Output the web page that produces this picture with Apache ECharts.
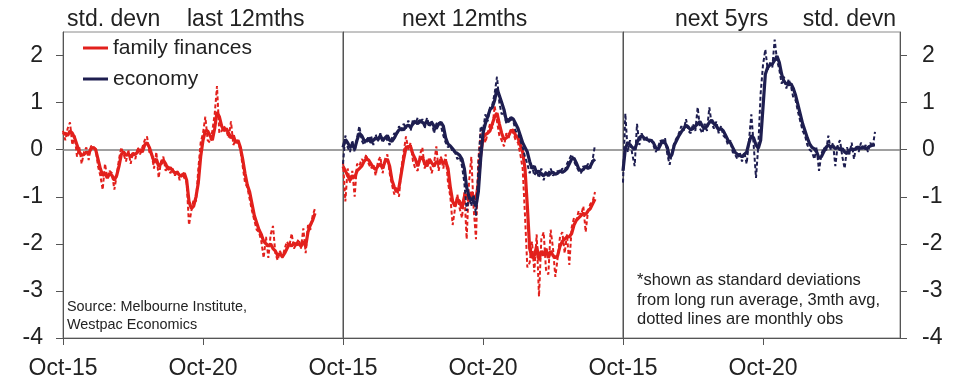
<!DOCTYPE html>
<html><head><meta charset="utf-8">
<script src="https://cdn.jsdelivr.net/npm/echarts@6/dist/echarts.min.js"></script>
<style>html,body{margin:0;padding:0;background:#fff}#c{width:957px;height:380px}</style>
</head><body><div id="c"></div>
<script>
// month offsets from Oct-15; monthly data Oct-15 .. Oct-24
const tickLabels = ['Oct-15', 'Oct-20'];
const tickMonths = [0, 60];
const yTicks = [-4, -3, -2, -1, 0, 1, 2];

// family finances vs last 12 months: 3mth avg and monthly
const ffLast3 = [0.32,0.35,0.30,0.40,0.35,0.25,0.10,-0.05,-0.12,-0.10,
-0.05,-0.08,0.02,0.05,0.00,-0.20,-0.40,-0.55,-0.50,-0.60,
-0.50,-0.55,-0.65,-0.55,-0.35,-0.10,-0.05,-0.12,-0.10,-0.15,
-0.08,-0.10,-0.05,0.00,-0.05,0.10,0.15,0.05,-0.10,-0.25,
-0.20,-0.35,-0.30,-0.22,-0.30,-0.42,-0.38,-0.45,-0.50,-0.48,
-0.55,-0.55,-0.50,-0.65,-1.10,-1.25,-1.20,-1.00,-0.70,-0.15,
0.20,0.40,0.40,0.30,0.20,0.45,0.80,0.70,0.50,0.40,
0.45,0.35,0.25,0.30,0.15,0.20,0.05,-0.20,-0.50,-0.75,
-0.90,-1.15,-1.40,-1.55,-1.70,-1.80,-1.95,-2.00,-2.05,-2.00,
-2.10,-2.15,-2.25,-2.20,-2.28,-2.20,-2.10,-2.00,-2.05,-1.98,
-2.02,-2.00,-2.05,-1.95,-2.05,-1.75,-1.60,-1.50,-1.35];
const ffLastM = [0.40,0.20,0.45,0.58,0.10,0.30,-0.15,0.05,-0.30,-0.05,
0.05,-0.22,0.08,0.05,0.02,-0.35,-0.55,-0.85,-0.30,-0.60,
-0.45,-0.50,-0.85,-0.55,-0.20,0.05,-0.10,-0.25,0.00,-0.30,
-0.05,-0.20,0.05,-0.10,0.05,0.20,0.28,-0.05,-0.10,-0.40,
-0.05,-0.60,-0.25,-0.15,-0.45,-0.35,-0.50,-0.40,-0.55,-0.45,
-0.65,-0.50,-0.60,-0.70,-1.60,-1.30,-1.05,-1.10,-0.40,0.15,
0.35,0.70,0.20,0.15,0.40,0.75,1.35,0.35,0.40,0.50,
0.40,0.25,0.60,0.10,0.20,0.15,0.00,-0.35,-0.70,-0.80,
-1.05,-1.30,-1.50,-1.70,-1.75,-1.95,-2.30,-1.85,-2.30,-1.80,
-1.62,-2.20,-2.35,-2.15,-2.30,-2.10,-1.95,-2.05,-1.78,-2.10,
-2.00,-1.90,-2.10,-1.67,-2.20,-1.60,-1.70,-1.40,-1.25];

// family finances next 12 months
const ffNext3 = [-0.35,-0.45,-0.55,-0.65,-0.55,-0.60,-0.45,-0.40,-0.35,-0.25,
-0.20,-0.22,-0.30,-0.38,-0.42,-0.35,-0.30,-0.40,-0.25,-0.20,
-0.35,-0.65,-0.80,-0.90,-0.80,-0.50,-0.20,0.05,0.07,0.05,
-0.10,-0.20,-0.35,-0.20,-0.15,-0.30,-0.35,-0.20,-0.28,-0.35,
-0.25,-0.30,-0.20,-0.30,-0.25,-0.40,-0.80,-1.10,-1.20,-1.05,
-1.10,-1.25,-1.00,-0.95,-1.10,-0.90,-1.00,-1.05,-0.70,-0.10,
0.25,0.32,0.35,0.40,0.55,0.70,0.78,0.55,0.35,0.22,
0.25,0.30,0.40,0.42,0.30,0.25,0.10,-0.05,-0.40,-1.20,
-2.10,-2.30,-2.25,-2.05,-2.35,-2.15,-2.25,-2.10,-2.30,-2.15,
-2.25,-2.30,-2.25,-2.05,-1.95,-1.90,-1.85,-1.85,-1.78,-1.60,
-1.50,-1.45,-1.40,-1.35,-1.38,-1.30,-1.25,-1.15,-1.05];
const ffNextM = [-0.25,-1.10,-0.40,-0.70,-0.45,-1.00,-0.30,-0.35,-0.20,-0.25,
-0.10,-0.30,-0.40,-0.30,-0.55,-0.25,-0.15,-0.50,-0.20,-0.10,
-0.50,-0.75,-0.95,-0.80,-1.00,-0.40,-0.05,0.28,0.00,0.15,
-0.25,-0.40,-0.45,-0.10,0.05,-0.40,-0.20,-0.25,-0.50,-0.30,
0.07,-0.45,-0.15,-0.40,-0.10,-0.70,-1.00,-1.60,-1.25,-0.95,
-1.25,-1.45,-0.90,-1.90,-0.70,-0.15,-1.25,-1.90,-0.20,0.35,
0.45,0.15,0.35,0.55,0.45,0.93,0.60,0.30,0.20,0.07,
0.35,0.25,0.45,0.35,0.20,0.15,-0.10,-0.40,-1.40,-2.50,
-2.40,-1.95,-2.60,-1.80,-3.12,-1.90,-1.75,-2.55,-2.65,-1.70,
-2.10,-2.70,-2.30,-1.85,-1.75,-2.20,-1.80,-2.45,-1.65,-1.45,
-1.50,-1.30,-1.40,-1.20,-1.75,-1.30,-1.15,-1.10,-0.90];

// economy next 12 months
const ecNext3 = [0.05,0.22,0.15,0.05,0.10,0.02,0.20,0.35,0.30,0.20,
0.18,0.25,0.15,0.20,0.25,0.22,0.30,0.20,0.25,0.30,
0.20,0.18,0.25,0.35,0.42,0.45,0.42,0.50,0.52,0.48,
0.55,0.60,0.55,0.62,0.58,0.55,0.60,0.52,0.58,0.50,
0.45,0.55,0.58,0.50,0.25,0.12,0.08,0.02,-0.05,-0.08,
-0.12,-0.20,-0.40,-0.80,-1.00,-1.05,-1.10,-1.20,-0.90,-0.20,
0.35,0.55,0.70,0.85,0.90,1.05,1.30,1.15,1.00,0.85,
0.62,0.60,0.68,0.65,0.55,0.45,0.30,0.15,0.05,-0.05,
-0.25,-0.40,-0.35,-0.50,-0.45,-0.52,-0.55,-0.50,-0.55,-0.50,
-0.48,-0.52,-0.50,-0.45,-0.48,-0.45,-0.40,-0.30,-0.20,-0.18,
-0.28,-0.40,-0.45,-0.42,-0.35,-0.40,-0.35,-0.25,-0.20];
const ecNextM = [-0.30,0.30,0.05,-0.05,0.20,-0.05,0.25,0.50,0.20,0.10,
0.25,0.15,0.30,0.10,0.32,0.18,0.35,0.15,0.28,0.20,
0.10,0.25,0.35,0.30,0.50,0.40,0.55,0.45,0.62,0.40,
0.65,0.55,0.68,0.55,0.65,0.45,0.68,0.50,0.62,0.35,
0.55,0.60,0.50,0.30,0.15,0.05,0.10,-0.05,-0.05,-0.20,
-0.15,-0.35,-0.70,-1.30,-1.00,-1.20,-0.95,-1.40,-0.40,0.50,
0.40,0.75,0.60,0.90,0.95,1.20,1.55,1.00,0.75,0.80,
0.55,0.70,0.65,0.60,0.40,0.35,0.20,0.05,-0.15,-0.30,
-0.50,-0.35,-0.55,-0.45,-0.60,-0.40,-0.65,-0.45,-0.50,-0.40,
-0.55,-0.50,-0.45,-0.50,-0.40,-0.45,-0.30,-0.20,-0.10,-0.25,
-0.35,-0.45,-0.50,-0.35,-0.40,-0.30,-0.40,-0.20,0.10];

// economy next 5 years
const ec5yr3 = [-0.45,0.02,0.15,0.10,0.05,0.00,0.15,0.25,0.30,0.25,
0.22,0.20,0.20,0.15,0.05,0.00,0.10,0.20,0.15,0.05,
-0.18,-0.10,0.10,0.20,0.30,0.38,0.45,0.52,0.48,0.42,
0.45,0.50,0.55,0.60,0.50,0.45,0.50,0.58,0.63,0.55,
0.50,0.42,0.45,0.40,0.30,0.20,0.15,0.05,-0.05,-0.10,
-0.12,-0.15,-0.10,-0.05,0.15,0.30,0.25,0.10,0.03,0.20,
0.90,1.60,1.75,1.80,1.82,1.90,1.99,1.85,1.60,1.45,
1.40,1.38,1.40,1.30,1.15,0.95,0.75,0.55,0.40,0.25,
0.12,0.05,0.02,-0.05,-0.18,-0.15,-0.05,0.05,0.10,0.05,
0.08,0.02,0.05,0.00,0.02,-0.05,-0.08,-0.02,0.02,0.00,
0.03,0.05,0.03,0.06,0.02,0.05,0.08,0.10,0.10];
const ec5yrM = [-0.70,0.77,-0.05,0.20,-0.10,-0.35,0.55,0.10,0.35,0.20,
0.28,0.15,0.25,0.10,-0.05,0.05,0.20,0.10,0.25,-0.10,
-0.32,-0.05,0.15,0.25,0.35,0.50,0.40,0.65,0.40,0.35,
0.55,0.40,0.90,0.45,0.35,0.55,0.40,0.90,0.55,0.45,
0.60,0.35,0.50,0.30,0.25,0.10,0.20,-0.05,-0.10,-0.20,
-0.05,-0.25,-0.05,-0.30,0.20,0.75,0.10,-0.60,0.10,1.20,
1.80,2.13,1.70,1.85,1.75,2.34,1.90,1.70,1.40,1.55,
1.30,1.50,1.35,1.10,1.05,0.80,0.60,0.40,0.30,0.10,
0.00,-0.05,-0.20,0.05,-0.45,-0.10,0.05,-0.05,0.30,0.00,
0.15,-0.35,0.10,0.20,-0.15,-0.40,0.05,-0.10,0.15,-0.20,
0.10,-0.05,0.15,0.00,0.10,-0.05,0.15,0.05,0.38];

const FONT = "'Liberation Sans', Arial, sans-serif";
const RED = '#E2201C', NAVY = '#1E1E50';
const AX = '#555555', TXT = '#222222';
function pairs(arr) { return arr.map((v, i) => [i, v]); }
function xLabel(v) { const k = tickMonths.indexOf(v); return k >= 0 ? tickLabels[k] : ''; }

const widths = [280, 280, 277];
const lefts = [63, 343, 623];
const grid = [0,1,2].map(k => ({left: lefts[k], top: 32, width: widths[k], height: 306,
  show: true, borderColor: '#8a8a8a', borderWidth: 1, backgroundColor: 'transparent'}));

const xAxis = [0,1,2].map(k => ({
  gridIndex: k, type: 'value', min: 0, max: 120 * widths[k] / 280, interval: 60,
  axisLine: {show: true, onZero: false, lineStyle: {color: AX, width: 1}},
  axisTick: {show: true, inside: false, length: 7, customValues: k === 2 ? [0, 60] : [0, 60, 120], lineStyle: {color: AX}},
  axisLabel: {customValues: tickMonths, formatter: xLabel, fontSize: 23, margin: 19, color: TXT, fontFamily: FONT},
  splitLine: {show: false}
}));

const yBase = {type: 'value', min: -4, max: 2.5, interval: 1, splitLine: {show: false}};
const yAxis = [
  Object.assign({}, yBase, {gridIndex: 0, position: 'left',
    axisLine: {show: true, lineStyle: {color: AX}},
    axisTick: {show: true, length: 7, customValues: yTicks, lineStyle: {color: AX}},
    axisLabel: {customValues: yTicks, fontSize: 23, margin: 20, color: TXT, fontFamily: FONT}}),
  Object.assign({}, yBase, {gridIndex: 1, position: 'left',
    axisLine: {show: true, lineStyle: {color: AX}}, axisTick: {show: false}, axisLabel: {show: false}}),
  Object.assign({}, yBase, {gridIndex: 2, position: 'left',
    axisLine: {show: true, lineStyle: {color: AX}}, axisTick: {show: false}, axisLabel: {show: false}}),
  Object.assign({}, yBase, {gridIndex: 2, position: 'right',
    axisLine: {show: true, lineStyle: {color: AX}},
    axisTick: {show: true, length: 7, customValues: yTicks, lineStyle: {color: AX}},
    axisLabel: {customValues: yTicks, fontSize: 23, margin: 22, color: TXT, fontFamily: FONT}})
];

const zeroLine = {silent: true, symbol: ['none', 'none'], label: {show: false},
  lineStyle: {color: '#808080', width: 1.5, type: 'solid'}, data: [{yAxis: 0}], z: 1};

function dotted(name, arr, k, yi, color, withZero) {
  const s = {name, type: 'line', xAxisIndex: k, yAxisIndex: yi, data: pairs(arr), symbol: 'none',
    silent: true, lineStyle: {color, width: 2, type: [4, 2.5]}, itemStyle: {color}};
  if (withZero) s.markLine = zeroLine;
  return s;
}
function solid(name, arr, k, yi, color) {
  return {name, type: 'line', xAxisIndex: k, yAxisIndex: yi, data: pairs(arr), symbol: 'none',
    silent: true, lineStyle: {color, width: 3.2}, itemStyle: {color}};
}

const series = [
  dotted('ff last monthly', ffLastM, 0, 0, RED, true),
  solid('family finances', ffLast3, 0, 0, RED),
  dotted('ff next monthly', ffNextM, 1, 1, RED, true),
  solid('family finances', ffNext3, 1, 1, RED),
  dotted('ec next monthly', ecNextM, 1, 1, NAVY, false),
  solid('economy', ecNext3, 1, 1, NAVY),
  dotted('ec 5yr monthly', ec5yrM, 2, 2, NAVY, true),
  solid('economy', ec5yr3, 2, 2, NAVY)
];

const tstyle = (size, lh) => ({fontSize: size, fontWeight: 'normal', color: TXT, fontFamily: FONT, lineHeight: lh});
const title = [
  {text: 'std. devn', left: 67, top: 8, padding: 0, textStyle: tstyle(23, 24)},
  {text: 'last 12mths', left: 187, top: 8, padding: 0, textStyle: tstyle(23, 24)},
  {text: 'next 12mths', left: 402, top: 8, padding: 0, textStyle: tstyle(23, 24)},
  {text: 'next 5yrs', left: 675, top: 8, padding: 0, textStyle: tstyle(23, 24)},
  {text: 'std. devn', right: 61, top: 8, padding: 0, textStyle: tstyle(23, 24)},
  {text: 'Source: Melbourne Institute,\nWestpac Economics', left: 67, top: 298, padding: 0, textStyle: tstyle(14.4, 18)},
  {text: '*shown as standard deviations\nfrom long run average, 3mth avg,\ndotted lines are monthly obs', left: 637, top: 271, padding: 0, textStyle: tstyle(16.5, 19.5)}
];

const chart = echarts.init(document.getElementById('c'), null, {renderer: 'canvas'});
chart.setOption({
  animation: false,
  backgroundColor: '#ffffff',
  title, grid, xAxis, yAxis, series,
  legend: {data: ['family finances', 'economy'], orient: 'vertical', left: 83, top: 37, padding: 0,
    itemWidth: 25, itemHeight: 3, itemGap: 9, icon: 'rect', selectedMode: false,
    textStyle: {fontSize: 21, color: TXT, fontFamily: FONT, lineHeight: 22}}
});
</script></body></html>
